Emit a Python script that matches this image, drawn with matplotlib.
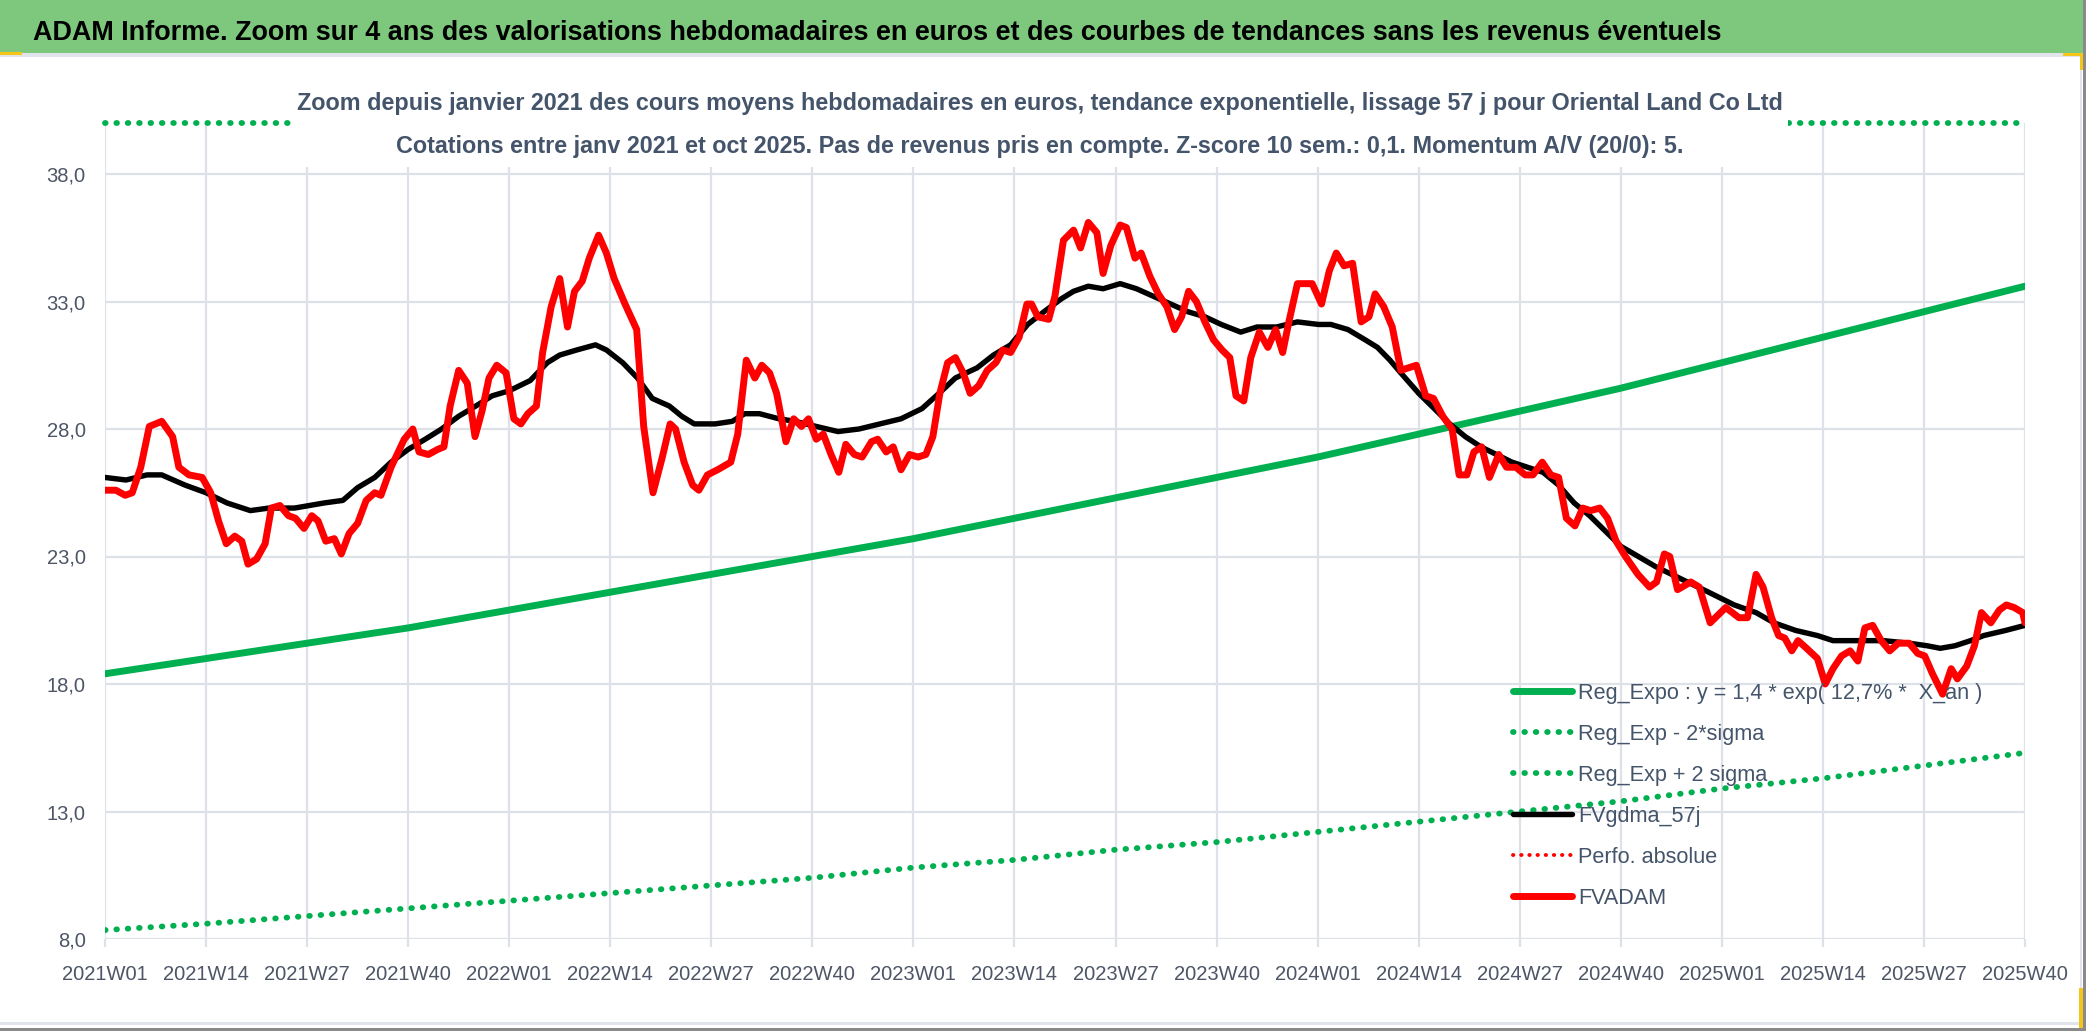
import numpy as np
import matplotlib.pyplot as plt
from matplotlib.patches import Rectangle

plt.rcParams['font.family'] = ['Liberation Sans', 'DejaVu Sans']

# weekly categories 2021W01 .. 2025W40
weeks = []
for year in [2021, 2022, 2023, 2024, 2025]:
    last = 40 if year == 2025 else 52
    for w in range(1, last + 1):
        weeks.append(f"{year}W{w:02d}")

# FVADAM (red): week position, value
red_week = [0, 1.4, 2.6, 3.5, 4.6, 5.7, 7.3, 8.7, 9.5, 10.8,
            12.5, 13.6, 14.6, 15.6, 16.7, 17.6, 18.4, 19.5, 20.6, 21.4,
            22.5, 23.6, 24.5, 25.6, 26.6, 27.4, 28.4, 29.5, 30.4, 31.4,
            32.5, 33.6, 34.7, 35.5, 36.8, 38.5, 39.6, 40.4, 41.6, 42.8,
            43.6, 44.4, 45.5, 46.6, 47.6, 48.5, 49.4, 50.4, 51.6, 52.6,
            53.5, 54.4, 55.5, 56.3, 57.4, 58.5, 59.5, 60.4, 61.4, 62.3,
            63.5, 64.5, 65.5, 66.9, 68.4, 69.3, 70.5, 71.7, 72.7, 73.4,
            74.5, 75.6, 76.4, 77.5, 78.8, 80.5, 81.4, 82.5, 83.6, 84.5,
            85.5, 86.4, 87.6, 88.6, 89.6, 90.5, 91.5, 92.4, 93.4, 94.4,
            95.3, 96.4, 97.4, 98.6, 99.4, 100.5, 101.4, 102.4, 103.5, 104.6,
            105.6, 106.5, 107.4, 108.4, 109.4, 110.4, 111.3, 112.4, 113.5, 114.6,
            115.5, 116.5, 117.6, 118.6, 119.2, 120.0, 121.4, 122.2, 123.3, 124.6,
            125.5, 126.5, 127.6, 128.4, 129.4, 130.6, 131.4, 132.5, 133.3, 134.4,
            135.5, 136.6, 137.6, 138.5, 139.4, 140.4, 141.5, 142.6, 143.7, 144.7,
            145.5, 146.5, 147.4, 148.5, 149.6, 150.6, 151.5, 152.3, 153.4, 155.3,
            156.5, 157.5, 158.4, 159.4, 160.5, 161.6, 162.6, 163.4, 164.5, 165.6,
            166.7, 167.7, 168.7, 169.9, 170.9, 172.1, 173.3, 174.2, 175.2, 176.1,
            177.1, 178.1, 179.3, 180.3, 181.5, 182.7, 183.7, 184.9, 186.0, 187.0,
            188.0, 189.1, 190.1, 191.1, 192.3, 193.3, 194.4, 195.6, 197.2, 198.7,
            199.6, 200.6, 201.3, 202.3, 204.0, 205.1, 206.5, 208.5, 210.2, 211.3,
            212.4, 213.3, 214.4, 215.3, 216.1, 217.0, 217.8, 218.9, 220.3, 221.3,
            222.3, 223.4, 224.5, 225.5, 226.4, 227.4, 228.5, 229.6, 230.7, 232.1,
            233.2, 234.1, 235.1, 236.4, 237.5, 238.3, 239.5, 240.5, 241.4, 242.6,
            243.7, 244.6, 245.6, 246.7, 247]
red_val = [25.6, 25.6, 25.4, 25.5, 26.5, 28.1, 28.3, 27.7, 26.5, 26.2,
           26.1, 25.5, 24.4, 23.5, 23.8, 23.6, 22.7, 22.9, 23.5, 24.9,
           25.0, 24.6, 24.5, 24.1, 24.6, 24.4, 23.6, 23.7, 23.1, 23.9,
           24.3, 25.2, 25.5, 25.4, 26.5, 27.6, 28.0, 27.1, 27.0, 27.2,
           27.3, 28.9, 30.3, 29.8, 27.7, 28.7, 30.0, 30.5, 30.2, 28.4,
           28.2, 28.6, 28.9, 31.0, 32.8, 33.9, 32.0, 33.4, 33.8, 34.7,
           35.6, 34.9, 33.9, 32.9, 31.9, 28.1, 25.5, 26.9, 28.2, 28.0,
           26.7, 25.8, 25.6, 26.2, 26.4, 26.7, 27.8, 30.7, 30.0, 30.5,
           30.2, 29.4, 27.5, 28.4, 28.1, 28.4, 27.6, 27.8, 27.0, 26.3,
           27.4, 27.0, 26.9, 27.5, 27.6, 27.1, 27.3, 26.4, 27.0, 26.9,
           27.0, 27.7, 29.4, 30.6, 30.8, 30.2, 29.4, 29.7, 30.3, 30.6,
           31.1, 31.0, 31.6, 32.9, 32.9, 32.4, 32.3, 33.2, 35.4, 35.8,
           35.1, 36.1, 35.7, 34.1, 35.2, 36.0, 35.9, 34.7, 34.9, 34.0,
           33.3, 32.8, 31.9, 32.4, 33.4, 33.0, 32.2, 31.5, 31.1, 30.8,
           29.3, 29.1, 30.8, 31.8, 31.2, 31.9, 31.0, 32.2, 33.7, 33.7,
           32.9, 34.2, 34.9, 34.4, 34.5, 32.2, 32.4, 33.3, 32.8, 32.0,
           30.3, 30.4, 30.5, 29.3, 29.2, 28.5, 28.0, 26.2, 26.2, 27.1,
           27.3, 26.1, 27.0, 26.5, 26.5, 26.2, 26.2, 26.7, 26.2, 26.1,
           24.5, 24.2, 24.9, 24.8, 24.9, 24.5, 23.6, 23.0, 22.3, 21.8,
           22.0, 23.1, 23.0, 21.7, 22.0, 21.8, 20.4, 21.0, 20.6, 20.6,
           22.3, 21.8, 20.6, 19.9, 19.8, 19.3, 19.7, 19.4, 19.0, 18.0,
           18.6, 19.1, 19.3, 18.9, 20.2, 20.3, 19.7, 19.3, 19.6, 19.6,
           19.2, 19.1, 18.4, 17.6, 18.6, 18.2, 18.7, 19.5, 20.8, 20.4,
           20.9, 21.1, 21.0, 20.8, 20.4]

# FVgdma_57j (black smoothing)
black_week = [0, 2.7, 5.4, 7.3, 10.3, 13.0, 15.7, 18.7, 21.1, 24.4,
              28.2, 30.6, 32.5, 34.7, 36.8, 39.0, 41.2, 43.3, 45.5, 47.7,
              49.8, 52.0, 54.7, 56.9, 58.5, 60.7, 63.1, 64.5, 66.6, 68.5,
              70.4, 72.6, 74.2, 75.8, 78.5, 80.7, 82.3, 84.2, 86.7, 88.8,
              91.5, 94.3, 97.0, 99.7, 102.4, 105.1, 107.3, 109.4, 112.2, 114.3,
              116.5, 118.7, 120.8, 123.0, 124.6, 126.5, 128.4, 130.6, 132.7, 134.9,
              137.1, 139.3, 141.5, 143.6, 146.1, 148.2, 150.7, 153.4, 156.1, 157.7,
              159.9, 162.1, 163.7, 165.3, 166.7, 169, 171, 173, 175, 177,
              179, 181, 183, 185, 187, 189, 191, 193, 195, 196.7,
              199.5, 202.9, 206.3, 209.6, 212.4, 214.7, 217.5, 220.3, 222.3, 225.9,
              228.8, 232.1, 234.4, 236.1, 238.0, 240.0, 241.7, 244.5, 247]
black_val = [26.1, 26.0, 26.2, 26.2, 25.8, 25.5, 25.1, 24.8, 24.9, 24.9,
             25.1, 25.2, 25.7, 26.1, 26.7, 27.2, 27.6, 28.0, 28.5, 28.9,
             29.3, 29.5, 29.9, 30.6, 30.9, 31.1, 31.3, 31.1, 30.6, 30.0,
             29.2, 28.9, 28.5, 28.2, 28.2, 28.3, 28.6, 28.6, 28.4, 28.3,
             28.1, 27.9, 28.0, 28.2, 28.4, 28.8, 29.4, 30.0, 30.4, 30.9,
             31.3, 32.1, 32.6, 33.1, 33.4, 33.6, 33.5, 33.7, 33.5, 33.2,
             32.9, 32.6, 32.4, 32.1, 31.8, 32.0, 32.0, 32.2, 32.1, 32.1,
             31.9, 31.5, 31.2, 30.7, 30.2, 29.4, 28.8, 28.2, 27.7, 27.3,
             27.0, 26.7, 26.5, 26.3, 25.8, 25.1, 24.6, 24.0, 23.4, 23.1,
             22.6, 22.1, 21.6, 21.1, 20.8, 20.4, 20.1, 19.9, 19.7, 19.7,
             19.7, 19.6, 19.5, 19.4, 19.5, 19.7, 19.9, 20.1, 20.3]

# exponential trend and bands, read at each labelled week
trend_week = list(range(0, 248, 13))
reg_expo = [18.4, 19.0, 19.6, 20.2, 20.9, 21.6, 22.3, 23.0, 23.7, 24.5,
            25.3, 26.1, 26.9, 27.8, 28.7, 29.6, 30.6, 31.6, 32.6, 33.6]
reg_low = [8.35, 8.6, 8.9, 9.2, 9.5, 9.8, 10.1, 10.4, 10.8, 11.1,
           11.5, 11.8, 12.2, 12.6, 13.0, 13.4, 13.9, 14.3, 14.8, 15.3]
# upper band lies above the axis maximum over the whole period
reg_high = [40.5, 41.8, 43.1, 44.5, 46.0, 47.4, 49.0, 50.6, 52.2, 53.9,
            55.6, 57.4, 59.2, 61.2, 63.1, 65.2, 67.3, 69.4, 71.7, 74.0]

y_min, y_max = 8, 40
y_ticks = [8, 13, 18, 23, 28, 33, 38]

W, H = 2086, 1031
fig = plt.figure(figsize=(W / 100, H / 100), dpi=100)
fig.patch.set_facecolor('white')

GREEN = '#00B050'
GRID = '#DDE1E8'
TXT = '#44546A'


def fit_width(t, width_px):
    # scale a text so it spans the same width as in the source picture
    r = fig.canvas.get_renderer()
    bb = t.get_window_extent(r)
    t.set_fontsize(t.get_fontsize() * width_px / bb.width)


ax = fig.add_axes([105 / W, 1 - 939 / H, 1920 / W, 816 / H])
ax.set_facecolor('white')

dots = (0, (0.1, 1.85))
ax.plot(trend_week, reg_expo, color=GREEN, lw=5, solid_capstyle='round',
        label='Reg_Expo : y = 1,4 * exp( 12,7% *  X_an )', zorder=3)
ax.plot(trend_week, reg_low, color=GREEN, lw=4.2, linestyle=dots,
        dash_capstyle='round', label='Reg_Exp - 2*sigma', zorder=3)
ax.plot(trend_week, np.minimum(reg_high, y_max), color=GREEN, lw=4.2,
        linestyle=dots, dash_capstyle='round', clip_on=False,
        label='Reg_Exp + 2 sigma', zorder=3)
ax.plot(black_week, black_val, color='black', lw=3.9, solid_joinstyle='round',
        solid_capstyle='round', label='FVgdma_57j', zorder=4)
ax.plot([], [], color='#FF0000', lw=2.8, linestyle=(0, (0.1, 2.0)),
        dash_capstyle='round', label='Perfo. absolue')
ax.plot(red_week, red_val, color='#FF0000', lw=5, solid_joinstyle='round',
        solid_capstyle='round', label='FVADAM', zorder=5)

ax.set_xlim(0, len(weeks) - 1)
ax.set_ylim(y_min, y_max)
ax.set_xticks(trend_week)
ax.set_xticklabels([weeks[i] for i in trend_week])
ax.set_yticks(y_ticks)
ax.set_yticklabels([f"{v:.1f}".replace('.', ',') for v in y_ticks])
ax.grid(True, color=GRID, lw=1.6, zorder=0)
ax.set_axisbelow(True)
for s in ax.spines.values():
    s.set_visible(False)
ax.tick_params(axis='x', length=6, width=1.6, color=GRID, pad=13,
               labelsize=14.5, labelcolor='#4D5566')
ax.tick_params(axis='y', length=0, pad=14, labelsize=14.5, labelcolor='#4D5566')

leg = ax.legend(loc='upper left', bbox_to_anchor=(1513 / W, 1 - 683 / H),
                bbox_transform=fig.transFigure, frameon=False, fontsize=15.6,
                borderpad=0, borderaxespad=0, handlelength=2.7,
                handletextpad=0.3, labelspacing=0.92, labelcolor=TXT)
leg.set_zorder(6)

# title bar
fig.patches.append(Rectangle((0, 1 - 53 / H), 1, 53 / H, transform=fig.transFigure,
                             facecolor='#7DC87D', edgecolor='none', zorder=1))
fig.patches.append(Rectangle((0, 1 - 57 / H), 2080 / W, 4 / H, transform=fig.transFigure,
                             facecolor='#E1E4EA', edgecolor='none', zorder=1))
title = fig.text(33 / W, 1 - 40 / H,
                 'ADAM Informe. Zoom sur 4 ans des valorisations hebdomadaires en euros '
                 'et des courbes de tendances sans les revenus éventuels',
                 fontsize=23.5, fontweight='bold', color='black', va='baseline', zorder=2)
fit_width(title, 1695)

# subtitle box over the plot top
fig.patches.append(Rectangle((292 / W, 1 - 167 / H), 1496 / W, 100 / H,
                             transform=fig.transFigure, facecolor='white',
                             edgecolor='none', zorder=7))
sub1 = fig.text(1040 / W, 1 - 110 / H,
                'Zoom depuis janvier 2021 des cours moyens hebdomadaires en euros, '
                'tendance exponentielle, lissage 57 j pour Oriental Land Co Ltd',
                fontsize=21, fontweight='bold', color=TXT, ha='center', va='baseline',
                zorder=8)
sub2 = fig.text(1040 / W, 1 - 153 / H,
                'Cotations entre janv 2021 et oct 2025. Pas de revenus pris en compte. '
                'Z-score 10 sem.: 0,1. Momentum A/V (20/0): 5.',
                fontsize=21, fontweight='bold', color=TXT, ha='center', va='baseline',
                zorder=8)
fit_width(sub1, 1486)
sub2.set_fontsize(sub1.get_fontsize())

# chart frame and selection marks
fig.patches.append(Rectangle((2080 / W, 0), 2 / W, 1 - 57 / H, transform=fig.transFigure,
                             facecolor='#E1E4EA', edgecolor='none', zorder=1))
fig.patches.append(Rectangle((0, 6 / H), 2080 / W, 3 / H, transform=fig.transFigure,
                             facecolor='#E1E4EA', edgecolor='none', zorder=1))
fig.patches.append(Rectangle((W - 3, 0), 3, H, transform=None,
                             facecolor='#8A8A8A', edgecolor='none', zorder=1))
fig.patches.append(Rectangle((0, 0), W, 3, transform=None,
                             facecolor='#8A8A8A', edgecolor='none', zorder=1))
fig.patches.append(Rectangle((0, 1 - 55 / H), 22 / W, 3 / H, transform=fig.transFigure,
                             facecolor='#F5C518', edgecolor='none', zorder=2))
fig.patches.append(Rectangle((2063 / W, 1 - 56 / H), 20 / W, 3 / H, transform=fig.transFigure,
                             facecolor='#F5C518', edgecolor='none', zorder=2))
fig.patches.append(Rectangle((2080 / W, 1 - 70 / H), 3 / W, 17 / H, transform=fig.transFigure,
                             facecolor='#F5C518', edgecolor='none', zorder=2))
fig.patches.append(Rectangle((2079 / W, 3 / H), 4 / W, 40 / H, transform=fig.transFigure,
                             facecolor='#F5C518', edgecolor='none', zorder=2))

fig.savefig('out.png', dpi=100, facecolor='white')
